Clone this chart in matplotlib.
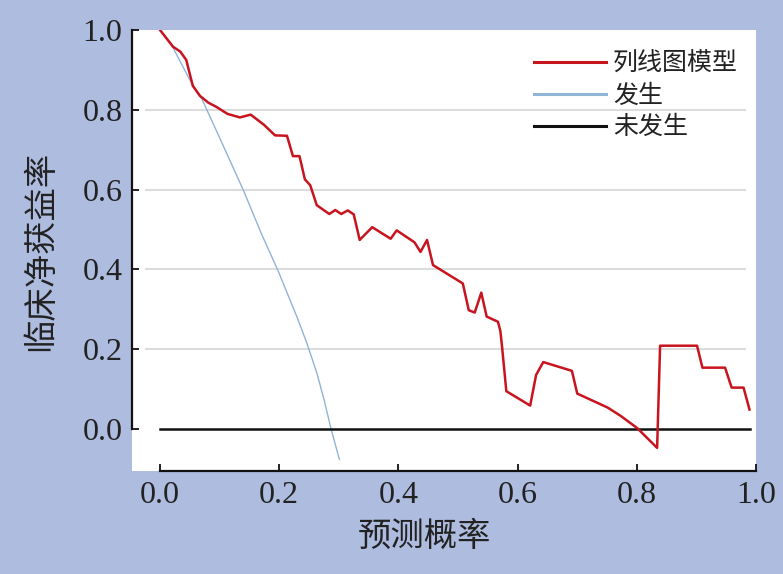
import numpy as np
import matplotlib
matplotlib.use("Agg")
from matplotlib import pyplot as plt

plt.rcParams['font.family'] = ['Liberation Serif', 'Noto Sans CJK SC', 'DejaVu Sans']
plt.rcParams['axes.unicode_minus'] = False

# nomogram model net benefit
model_x = [0.0, 0.022, 0.034, 0.044, 0.055, 0.067, 0.081, 0.095, 0.113, 0.134,
           0.152, 0.174, 0.193, 0.213, 0.223, 0.234, 0.243, 0.252, 0.263, 0.284,
           0.294, 0.304, 0.315, 0.325, 0.335, 0.356, 0.387, 0.397, 0.427, 0.437,
           0.448, 0.458, 0.508, 0.518, 0.528, 0.539, 0.548, 0.567, 0.571, 0.574,
           0.581, 0.621, 0.631, 0.643, 0.691, 0.700, 0.751, 0.773, 0.801, 0.834,
           0.839, 0.901, 0.910, 0.948, 0.959, 0.979, 0.989]
model_y = [1.0, 0.958, 0.946, 0.925, 0.860, 0.835, 0.818, 0.807, 0.790, 0.781,
           0.788, 0.763, 0.736, 0.735, 0.684, 0.684, 0.626, 0.611, 0.561, 0.539,
           0.549, 0.539, 0.548, 0.538, 0.474, 0.506, 0.477, 0.498, 0.468, 0.444,
           0.474, 0.411, 0.365, 0.298, 0.292, 0.342, 0.282, 0.269, 0.246, 0.204,
           0.095, 0.059, 0.136, 0.168, 0.146, 0.089, 0.054, 0.033, 0.002, -0.047,
           0.209, 0.209, 0.154, 0.154, 0.104, 0.104, 0.049]

# treat all ("发生")
all_x = [0.0, 0.022, 0.05, 0.07, 0.10, 0.14, 0.17, 0.198, 0.23, 0.246, 0.263, 0.275, 0.287, 0.301]
all_y = [1.0, 0.955, 0.875, 0.828, 0.73, 0.598, 0.49, 0.397, 0.28, 0.217, 0.141, 0.075, 0.0, -0.076]

# treat none ("未发生")
none_x = [0.0, 0.99]
none_y = [0.0, 0.0]

labels = ['列线图模型', '发生', '未发生']
ticks = [0.0, 0.2, 0.4, 0.6, 0.8, 1.0]

fig = plt.figure(figsize=(7.83, 5.74), dpi=100, facecolor='#aebcdf')
ax = fig.add_axes([0.1686, 0.1794, 0.797, 0.7683])
ax.set_facecolor('white')

ax.hlines([0.2, 0.4, 0.6, 0.8], -0.025, 0.983, colors='#dcdcdc', lw=1.5, zorder=0)

ax.plot(model_x, model_y, color='#c8141e', lw=1.8, label=labels[0], zorder=3)
ax.plot(all_x, all_y, color='#8fb4d8', lw=1.0, label=labels[1], zorder=2)
ax.plot(none_x, none_y, color='#111111', lw=1.8, label=labels[2], zorder=2)

ax.set_xlim(-0.047, 1.0)
ax.set_ylim(-0.105, 1.0)
ax.set_xticks(ticks)
ax.set_yticks(ticks)
ax.set_xticklabels([f"{t:.1f}" for t in ticks])
ax.set_yticklabels([f"{t:.1f}" for t in ticks])

for s in ['top', 'right']:
    ax.spines[s].set_visible(False)
ax.spines['left'].set_bounds(0, 1)
ax.spines['bottom'].set_bounds(0, 1)
for s in ['left', 'bottom']:
    ax.spines[s].set_linewidth(1.6)
    ax.spines[s].set_color('#111111')

ax.tick_params(direction='in', length=5, width=1.3, labelsize=23,
               labelcolor='#222222', color='#111111', pad=7)

ax.set_xlabel('预测概率', fontsize=24, color='#222222')
ax.set_ylabel('临床净获益率', fontsize=24, color='#222222')
ax.xaxis.set_label_coords(0.468, -0.115)
ax.yaxis.set_label_coords(-0.12, 0.5)

leg = ax.legend(loc='upper right', bbox_to_anchor=(738 / 783, 1 - 53 / 574),
                bbox_transform=fig.transFigure, frameon=False, borderpad=0,
                borderaxespad=0, fontsize=18, handlelength=2.85,
                handletextpad=0.3, labelspacing=0.33)
for t in leg.get_texts():
    t.set_color('#222222')
for l in leg.get_lines():
    l.set_linewidth(2.2)

fig.savefig('out.png', dpi=100, facecolor=fig.get_facecolor())
